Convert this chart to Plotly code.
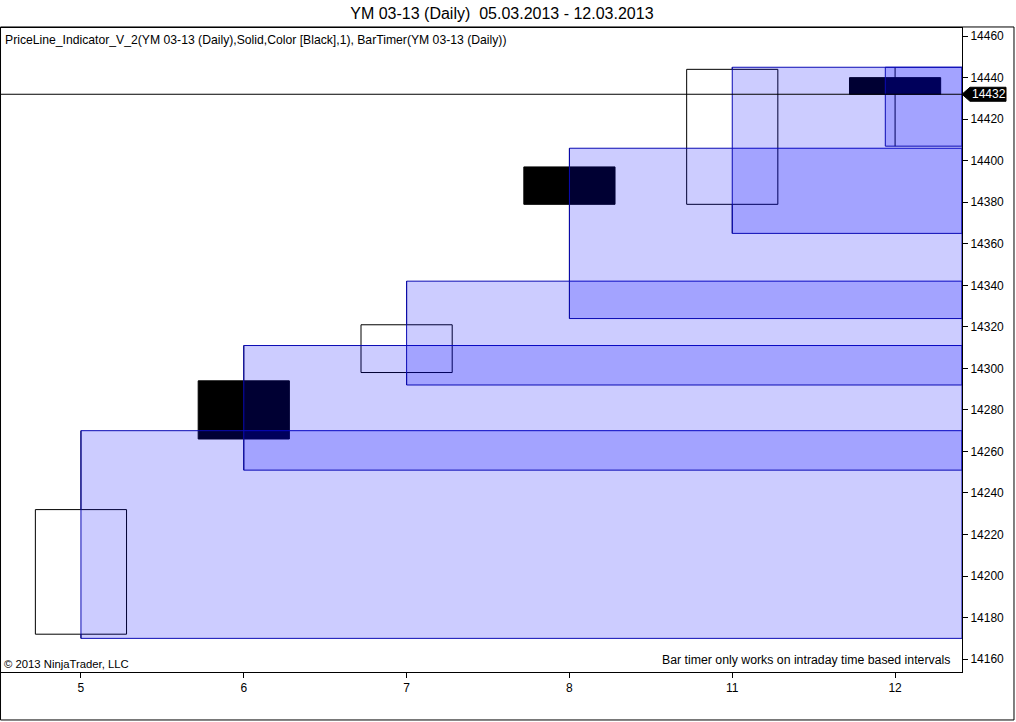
import plotly.graph_objects as go

# daily bars YM 03-13, 05.03.2013 - 12.03.2013
days = ["5", "6", "7", "8", "11", "12"]
opens = [14172, 14294, 14298, 14397, 14379, 14440]
highs = [14270, 14311, 14342, 14406, 14445, 14445]
lows = [14170, 14251, 14292, 14324, 14365, 14407]
closes = [14232, 14266, 14321, 14379, 14444, 14432]

y_ticks = list(range(14160, 14461, 20))

FONT = "Liberation Sans, Arial, sans-serif"
X_RANGE = [-0.491, 5.411]
Y_RANGE = [14153.8, 14463.9]
HALF = 0.28          # half candle body width, in bars
ZONE_LINE = "rgb(10,10,180)"
ZONE_FILL = "rgba(0,0,255,0.2)"

fig = go.Figure()
idx = list(range(len(days)))

# candles: wick + body
for i in idx:
    fig.add_trace(go.Scatter(x=[i, i], y=[lows[i], highs[i]], mode="lines",
                             line=dict(color="black", width=1),
                             hoverinfo="skip", showlegend=False))
    up = closes[i] >= opens[i]
    fig.add_trace(go.Scatter(
        x=[i - HALF, i + HALF, i + HALF, i - HALF, i - HALF],
        y=[opens[i], opens[i], closes[i], closes[i], opens[i]],
        mode="lines", fill="toself",
        fillcolor="white" if up else "black",
        line=dict(color="black", width=1),
        hoverinfo="skip", showlegend=False))

# high/low zones extended to the right edge
for i in idx:
    start = i - 0.06 if i == idx[-1] else i
    fig.add_trace(go.Scatter(
        x=[start, X_RANGE[1], X_RANGE[1], start, start],
        y=[lows[i], lows[i], highs[i], highs[i], lows[i]],
        mode="lines", fill="toself", fillcolor=ZONE_FILL,
        line=dict(color=ZONE_LINE, width=1),
        hoverinfo="skip", showlegend=False))

last = closes[-1]

# price line and marker
fig.add_shape(type="line", xref="paper", yref="y", x0=0, x1=1, y0=last, y1=last,
              line=dict(color="black", width=1), layer="above")
fig.add_shape(type="path", xref="paper", yref="y", xsizemode="pixel", ysizemode="pixel",
              xanchor=1, yanchor=last,
              path="M0,0 L8,7 L44,7 L44,-7 L8,-7 Z",
              fillcolor="black", line=dict(color="black", width=1), layer="above")
fig.add_annotation(xref="paper", yref="y", x=1, y=last, xanchor="left", yanchor="middle",
                   xshift=8, text=str(last), showarrow=False,
                   font=dict(family=FONT, size=12, color="white"))

# outer frame
fig.add_shape(type="rect", xref="paper", yref="paper",
              x0=-0.0005, x1=1.0541, y0=-0.0745, y1=1.0016,
              line=dict(color="black", width=1), layer="above")

fig.add_annotation(xref="paper", yref="paper", x=0, y=1, xanchor="left", yanchor="top",
                   xshift=2, yshift=-3, showarrow=False,
                   text="PriceLine_Indicator_V_2(YM 03-13 (Daily),Solid,Color [Black],1), BarTimer(YM 03-13 (Daily))",
                   font=dict(family=FONT, size=12.2, color="black"))
fig.add_annotation(xref="paper", yref="paper", x=0, y=0, xanchor="left", yanchor="bottom",
                   xshift=1, yshift=0, showarrow=False, text="© 2013 NinjaTrader, LLC",
                   font=dict(family=FONT, size=11.3, color="black"))
fig.add_annotation(xref="paper", yref="paper", x=0.9896, y=0.0186, xanchor="right", yanchor="middle",
                   showarrow=False, text="Bar timer only works on intraday time based intervals",
                   font=dict(family=FONT, size=12.3, color="black"))

fig.update_layout(
    width=1016, height=722,
    margin=dict(l=1, r=54, t=28, b=50),
    paper_bgcolor="white", plot_bgcolor="white",
    title=dict(text="YM 03-13 (Daily)  05.03.2013 - 12.03.2013", x=0.494, xref="container",
               xanchor="center", y=0.981, yanchor="middle",
               font=dict(family=FONT, size=16, color="black")),
    font=dict(family=FONT, size=12, color="black"),
    showlegend=False,
)
fig.update_xaxes(range=X_RANGE, tickvals=idx, ticktext=days, showgrid=False, zeroline=False,
                 showline=True, linecolor="black", linewidth=1, mirror=True,
                 ticks="outside", ticklen=5, tickcolor="black",
                 tickfont=dict(family=FONT, size=12, color="black"))
fig.update_yaxes(range=Y_RANGE, side="right", tickvals=y_ticks, tickformat="d",
                 showgrid=False, zeroline=False,
                 showline=True, linecolor="black", linewidth=1, mirror=True,
                 ticks="outside", ticklen=5, tickcolor="black",
                 tickfont=dict(family=FONT, size=12, color="black"))

fig.write_html("out.html", config={"displayModeBar": False},
               post_script="document.body.style.margin='0';")
